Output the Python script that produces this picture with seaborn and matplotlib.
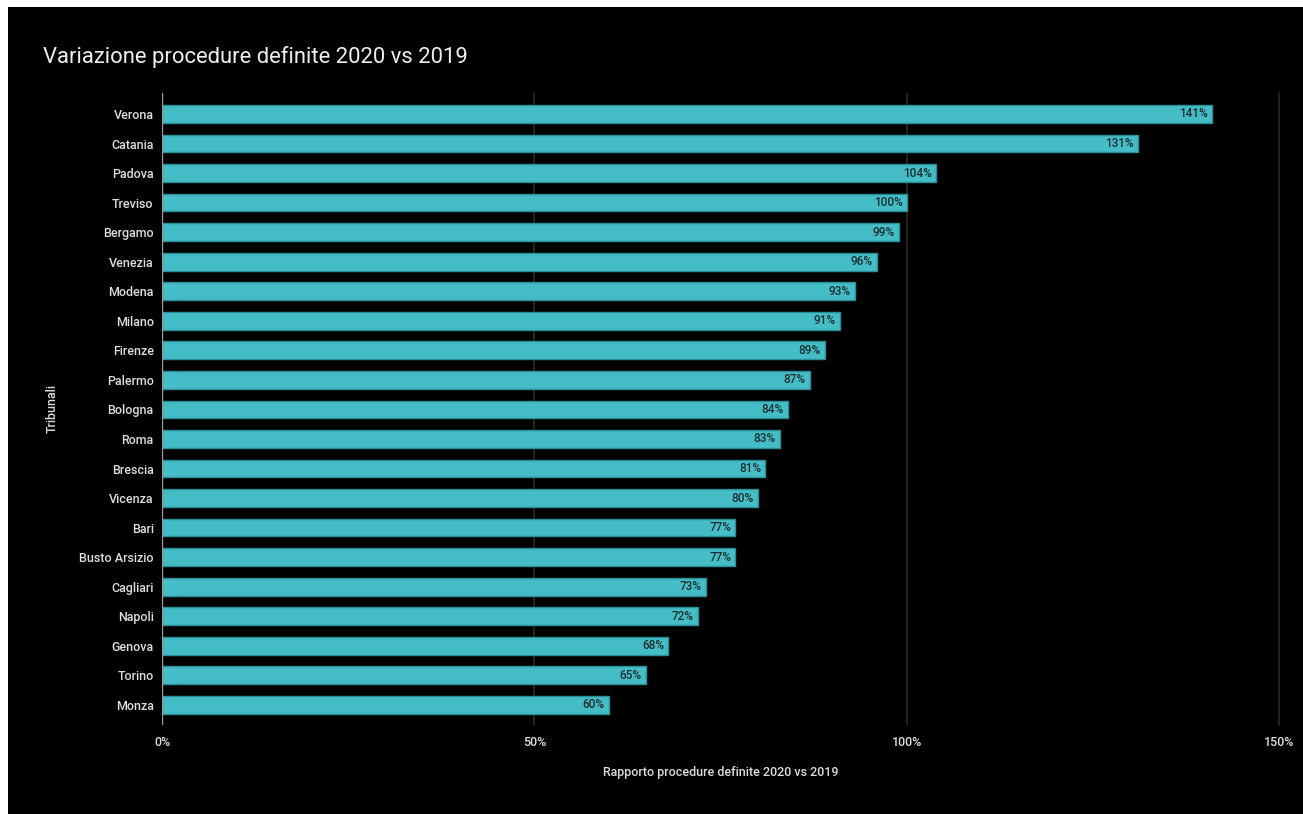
import numpy as np
import pandas as pd
import matplotlib
matplotlib.use("Agg")
import matplotlib.pyplot as plt
import seaborn as sns
from matplotlib.patches import Rectangle

# data
tribunali = ["Verona", "Catania", "Padova", "Treviso", "Bergamo", "Venezia", "Modena",
             "Milano", "Firenze", "Palermo", "Bologna", "Roma", "Brescia", "Vicenza",
             "Bari", "Busto Arsizio", "Cagliari", "Napoli", "Genova", "Torino", "Monza"]
rapporto = [141, 131, 104, 100, 99, 96, 93, 91, 89, 87, 84, 83, 81, 80,
            77, 77, 73, 72, 68, 65, 60]
x_ticks = [0, 50, 100, 150]

df = pd.DataFrame({"Tribunali": tribunali, "Rapporto": rapporto})

sns.set_theme(style="dark")
plt.rcParams['font.family'] = ['Roboto', 'DejaVu Sans']

W, H = 1303, 814
fig = plt.figure(figsize=(W / 100, H / 100), dpi=100, facecolor="white")
# black card, leaving a thin white margin at left and top
fig.patches.append(Rectangle((8 / W, 0), 1 - 8 / W, 1 - 7 / H, transform=fig.transFigure,
                             facecolor="black", edgecolor="none", zorder=-10))

left, right, top, bottom = 162, 1279, 93, 725
ax = fig.add_axes([left / W, 1 - bottom / H, (right - left) / W, (bottom - top) / H])
ax.set_facecolor("black")

sns.barplot(data=df, x="Rapporto", y="Tribunali", orient="h", ax=ax,
            color="#45bdc6", saturation=1, width=0.6,
            edgecolor="#2b8f97", linewidth=1, zorder=3)

for v in x_ticks[1:]:
    ax.axvline(v, color="#2c2c2c", lw=1.1, zorder=1, clip_on=False)
ax.axvline(0, color="#9a9a9a", lw=1, zorder=4)

ax.set_xlim(0, 150)
ax.set_ylim(20.68, -0.71)
ax.set_xticks(x_ticks)
ax.set_xticklabels([f"{v}%" for v in x_ticks])
ax.tick_params(axis="x", labelsize=9, length=0, pad=8)
ax.tick_params(axis="y", labelsize=9, length=0, pad=6)
for lab in ax.get_xticklabels() + ax.get_yticklabels():
    lab.set_color("#dcdcdc")
    lab.set_fontweight("medium")
for s in ax.spines.values():
    s.set_visible(False)
ax.grid(False)

# value labels, right aligned just inside the end of each bar
for i, v in enumerate(rapporto):
    ax.annotate(f"{v}%", xy=(v, i), xytext=(-3, 0), textcoords="offset points",
                ha="right", va="center", color="#1a2e30", fontsize=8.5,
                fontweight="medium", zorder=5)

ax.set_xlabel("Rapporto procedure definite 2020 vs 2019", color="#dcdcdc",
              fontsize=9, fontweight="medium", labelpad=12)
ax.set_ylabel("Tribunali", color="#dcdcdc", fontsize=9, fontweight="medium", labelpad=15)

fig.text(43 / W, 1 - 57 / H, "Variazione procedure definite 2020 vs 2019",
         color="#eeeeee", fontsize=15.8, va="center", ha="left")

fig.savefig("out.png", dpi=100, facecolor="white")
